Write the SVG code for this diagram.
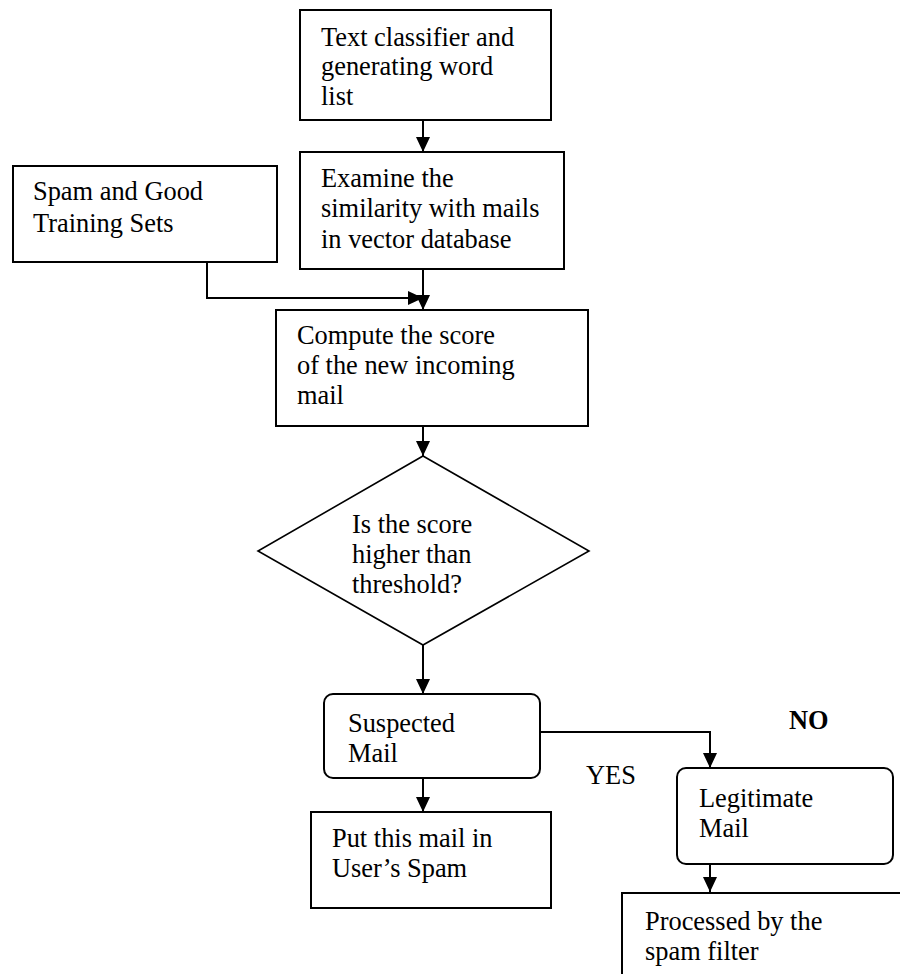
<svg xmlns="http://www.w3.org/2000/svg" width="900" height="974" viewBox="0 0 900 974" font-family="'Liberation Serif', 'Times New Roman', Times, 'DejaVu Serif', serif">
<style>
  .box { fill: #fff; stroke: #000; stroke-width: 2; }
  .dia { fill: #fff; stroke: #000; stroke-width: 1.6; }
  .t { font-size: 26.4px; fill: #000; }
  .b { font-weight: bold; }
  .c { fill: none; stroke: #000; stroke-width: 2; }
</style>
<defs>
  <marker id="ah" markerUnits="userSpaceOnUse" markerWidth="16" markerHeight="14" refX="15" refY="7" orient="auto">
    <path d="M0,0 L15,7 L0,14 z" fill="#000"/>
  </marker>
</defs>
<rect width="900" height="974" fill="#fff"/>

<g id="connectors">
  <line class="c" x1="423" y1="120" x2="423" y2="152" marker-end="url(#ah)"/>
  <polyline class="c" points="207,262 207,298 423,298" marker-end="url(#ah)"/>
  <line class="c" x1="423" y1="269" x2="423" y2="310" marker-end="url(#ah)"/>
  <line class="c" x1="423" y1="426" x2="423" y2="456" marker-end="url(#ah)"/>
  <line class="c" x1="423" y1="645" x2="423" y2="694" marker-end="url(#ah)"/>
  <polyline class="c" points="540,732 710,732 710,768" marker-end="url(#ah)"/>
  <line class="c" x1="423" y1="778" x2="423" y2="812" marker-end="url(#ah)"/>
  <line class="c" x1="710" y1="864" x2="710" y2="892" marker-end="url(#ah)"/>
</g>

<g id="text-classifier">
  <rect class="box" x="300" y="10" width="251" height="110"/>
  <text class="t" x="321" y="45.5">Text classifier and</text>
  <text class="t" x="321" y="75">generating word</text>
  <text class="t" x="321" y="105">list</text>
</g>

<g id="examine">
  <rect class="box" x="300" y="152" width="264" height="117"/>
  <text class="t" x="321" y="186.5">Examine the</text>
  <text class="t" x="321" y="217">similarity with mails</text>
  <text class="t" x="321" y="247.5">in vector database</text>
</g>

<g id="training-sets">
  <rect class="box" x="13" y="166" width="264" height="96"/>
  <text class="t" x="33" y="200">Spam and Good</text>
  <text class="t" x="33" y="231.5">Training Sets</text>
</g>

<g id="compute">
  <rect class="box" x="276" y="310" width="312" height="116"/>
  <text class="t" x="297" y="343.5">Compute the score</text>
  <text class="t" x="297" y="373.5">of the new incoming</text>
  <text class="t" x="297" y="403.5">mail</text>
</g>

<g id="decision">
  <polygon class="dia" points="423,456 589,551 423,645 258,551"/>
  <text class="t" x="352" y="533">Is the score</text>
  <text class="t" x="352" y="563">higher than</text>
  <text class="t" x="352" y="593">threshold?</text>
</g>

<g id="suspected">
  <rect class="box" x="324" y="694" width="216" height="84" rx="9" ry="9"/>
  <text class="t" x="348" y="731.5">Suspected</text>
  <text class="t" x="348" y="761.5">Mail</text>
</g>

<g id="put-spam">
  <rect class="box" x="311" y="812" width="240" height="96"/>
  <text class="t" x="332" y="846.5">Put this mail in</text>
  <text class="t" x="332" y="877">User’s Spam</text>
</g>

<g id="legitimate">
  <rect class="box" x="677" y="768" width="216" height="96" rx="9" ry="9"/>
  <text class="t" x="699" y="806.5">Legitimate</text>
  <text class="t" x="699" y="836.5">Mail</text>
</g>

<g id="processed">
  <rect class="box" x="622" y="893" width="300" height="100"/>
  <text class="t" x="645" y="930">Processed by the</text>
  <text class="t" x="645" y="960">spam filter</text>
</g>

<g id="labels">
  <text class="t" x="586" y="784">YES</text>
  <text class="t b" x="789" y="728.5">NO</text>
</g>
</svg>
